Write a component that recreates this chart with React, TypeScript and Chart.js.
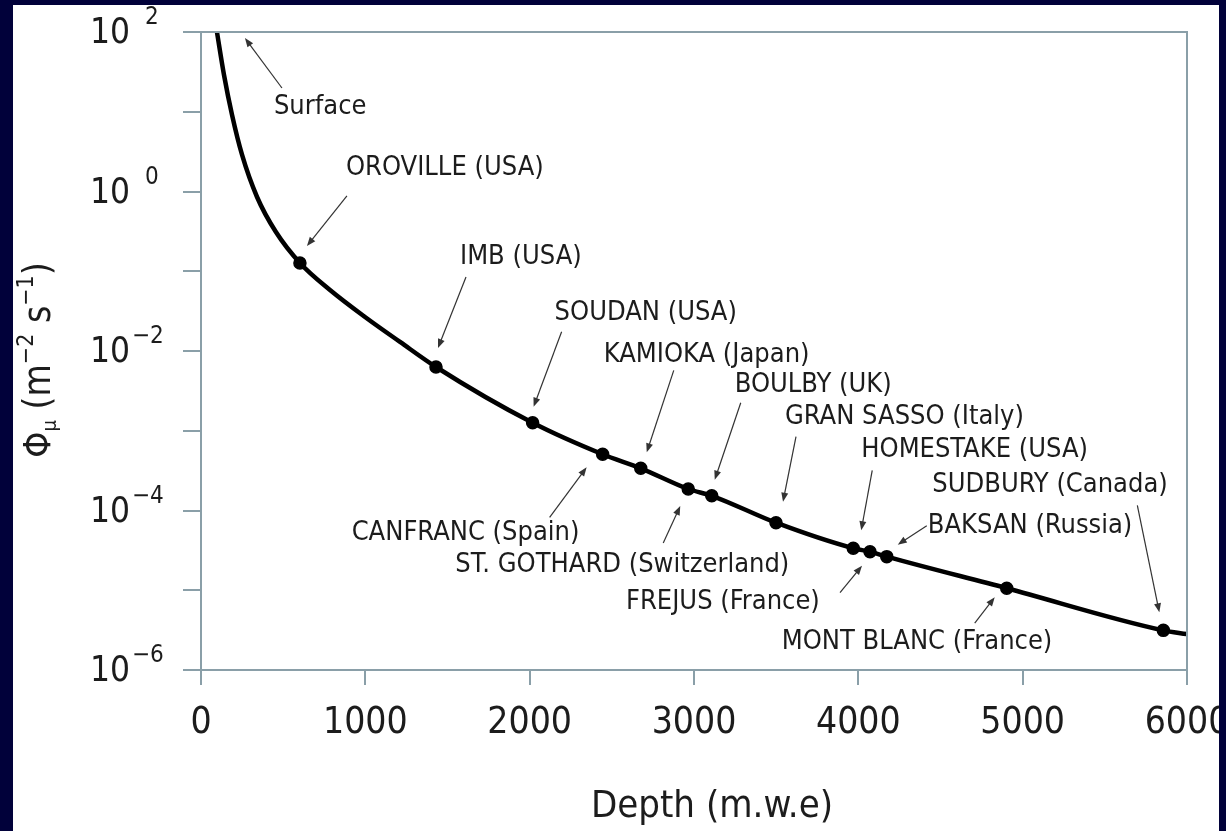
import React, { useEffect, useRef } from 'react';
import { Chart, registerables } from 'chart.js';

Chart.register(...registerables);

// ---- data ----
const curveDepth = [97, 140, 189, 250, 341, 456, 602, 785, 998, 1211, 1430, 2018, 2444, 2676, 2965, 3108, 3499, 3969, 4071, 4173, 4903, 5856, 5998];
const curveFlux = [100, 28.9, 9.1, 2.87, 0.853, 0.31, 0.127, 0.0582, 0.0267, 0.013, 6.3e-3, 1.26e-3, 5.07e-4, 3.38e-4, 1.86e-4, 1.53e-4, 7.03e-5, 3.36e-5, 3.04e-5, 2.64e-5, 1.06e-5, 3.14e-6, 2.82e-6];

const siteNames = [
  'OROVILLE (USA)', 'IMB (USA)', 'SOUDAN (USA)', 'CANFRANC (Spain)', 'KAMIOKA (Japan)',
  'ST. GOTHARD (Switzerland)', 'BOULBY (UK)', 'GRAN SASSO (Italy)', 'HOMESTAKE (USA)',
  'FREJUS (France)', 'BAKSAN (Russia)', 'MONT BLANC (France)', 'SUDBURY (Canada)',
];
const siteDepth = [602, 1430, 2018, 2444, 2676, 2965, 3108, 3499, 3969, 4071, 4173, 4903, 5856];
const siteFlux = [0.127, 6.3e-3, 1.26e-3, 5.07e-4, 3.38e-4, 1.86e-4, 1.53e-4, 7.03e-5, 3.36e-5, 3.04e-5, 2.64e-5, 1.06e-5, 3.14e-6];

const surfaceLabel = 'Surface';
const xTickValues = [0, 1000, 2000, 3000, 4000, 5000, 6000];
const yDecadeExponents = [-6, -5, -4, -3, -2, -1, 0, 1, 2];
const yLabelExponents = [-6, -4, -2, 0, 2];
const xTitle = 'Depth (m.w.e)';

// ---- annotation layout (pixel offsets from the marked point) ----
// [labelDx, labelDy, tailDx, tailDy, headDx, headDy]
const siteLayout = [
  [46, -95, 47, -67, 7, -17],
  [24, -110, 30, -90, 2, -19],
  [22, -110, 29, -91, 1, -16],
  [-251, 79, -53, 63, -16, 13],
  [-37, -113, 33, -98, 6, -16],
  [-233, 76, -25, 54, -8, 17],
  [23, -111, 29, -93, 3, -16],
  [9, -106, 20, -86, 7, -21],
  [8, -98, 19, -78, 8, -18],
  [-244, 50, -30, 41, -8, 14],
  [41, -31, 40, -31, 11, -12],
  [-225, 54, -32, 35, -12, 9],
  [-231, -145, -26, -125, -4, -18],
];
const surfaceLayout = [57, 75, 65, 56, 28, 6];

const FONT = "'DejaVu Sans Condensed', 'DejaVu Sans', sans-serif";
const AXIS_COLOR = '#8a9fa8';
const TEXT_COLOR = '#1c1c1c';
const FRAME_COLOR = '#01013a';

function drawArrow(ctx: CanvasRenderingContext2D, x1: number, y1: number, x2: number, y2: number) {
  const ang = Math.atan2(y2 - y1, x2 - x1);
  const hl = 9;
  const hw = 3.5;
  ctx.save();
  ctx.strokeStyle = '#333333';
  ctx.fillStyle = '#333333';
  ctx.lineWidth = 1.2;
  ctx.beginPath();
  ctx.moveTo(x1, y1);
  ctx.lineTo(x2 - Math.cos(ang) * hl * 0.8, y2 - Math.sin(ang) * hl * 0.8);
  ctx.stroke();
  ctx.beginPath();
  ctx.moveTo(x2, y2);
  ctx.lineTo(x2 - Math.cos(ang) * hl - Math.sin(ang) * hw, y2 - Math.sin(ang) * hl + Math.cos(ang) * hw);
  ctx.lineTo(x2 - Math.cos(ang) * hl + Math.sin(ang) * hw, y2 - Math.sin(ang) * hl - Math.cos(ang) * hw);
  ctx.closePath();
  ctx.fill();
  ctx.restore();
}

const decorPlugin = {
  id: 'decor',
  beforeDraw(chart: any) {
    const ctx = chart.ctx;
    ctx.save();
    ctx.fillStyle = '#ffffff';
    ctx.fillRect(0, 0, chart.width, chart.height);
    ctx.restore();
  },
  afterDraw(chart: any) {
    const ctx: CanvasRenderingContext2D = chart.ctx;
    const xs = chart.scales.x;
    const ys = chart.scales.y;
    const area = chart.chartArea;

    // top and right frame of the plot box
    ctx.save();
    ctx.strokeStyle = AXIS_COLOR;
    ctx.lineWidth = 2;
    ctx.beginPath();
    ctx.moveTo(area.left, area.top);
    ctx.lineTo(area.right, area.top);
    ctx.lineTo(area.right, area.bottom);
    ctx.stroke();
    ctx.restore();

    // y tick labels 10^n
    ctx.save();
    ctx.fillStyle = TEXT_COLOR;
    ctx.textBaseline = 'middle';
    for (const e of yLabelExponents) {
      const y = ys.getPixelForValue(Math.pow(10, e));
      ctx.font = `35px ${FONT}`;
      ctx.textAlign = 'right';
      ctx.fillText('10', 130, y + 2);
      ctx.font = `24px ${FONT}`;
      ctx.textAlign = 'left';
      const s = e < 0 ? '\u2212' + String(-e) : String(e);
      ctx.fillText(s, e < 0 ? 132 : 145, y - 14);
    }
    ctx.restore();

    // y axis title
    ctx.save();
    ctx.translate(50, 360);
    ctx.rotate(-Math.PI / 2);
    ctx.fillStyle = TEXT_COLOR;
    ctx.textBaseline = 'alphabetic';
    ctx.textAlign = 'left';
    const parts: [string, number, number][] = [
      ['\u03A6', 37, 0],
      ['\u03BC', 20, 6],
      [' (m', 37, 0],
      ['\u22122', 23, -17],
      [' s', 37, 0],
      ['\u22121', 23, -17],
      [')', 37, 0],
    ];
    let total = 0;
    for (const [t, sz] of parts) {
      ctx.font = `${sz}px ${FONT}`;
      total += ctx.measureText(t).width;
    }
    let cx = -total / 2;
    for (const [t, sz, dy] of parts) {
      ctx.font = `${sz}px ${FONT}`;
      ctx.fillText(t, cx, dy);
      cx += ctx.measureText(t).width;
    }
    ctx.restore();

    // x axis title
    ctx.save();
    ctx.fillStyle = TEXT_COLOR;
    ctx.font = `38px ${FONT}`;
    ctx.textAlign = 'center';
    ctx.textBaseline = 'middle';
    ctx.fillText(xTitle, (area.left + area.right) / 2 + 18, area.bottom + 137);
    ctx.restore();

    // annotations
    ctx.save();
    ctx.font = `27px ${FONT}`;
    ctx.fillStyle = TEXT_COLOR;
    ctx.textAlign = 'left';
    ctx.textBaseline = 'middle';
    const annotate = (px: number, py: number, text: string, lay: number[]) => {
      ctx.fillStyle = TEXT_COLOR;
      ctx.fillText(text, px + lay[0], py + lay[1]);
      drawArrow(ctx, px + lay[2], py + lay[3], px + lay[4], py + lay[5]);
    };
    annotate(xs.getPixelForValue(curveDepth[0]), ys.getPixelForValue(curveFlux[0]), surfaceLabel, surfaceLayout);
    siteNames.forEach((name, i) => {
      annotate(xs.getPixelForValue(siteDepth[i]), ys.getPixelForValue(siteFlux[i]), name, siteLayout[i]);
    });
    ctx.restore();

    // outer navy frame
    ctx.save();
    ctx.fillStyle = FRAME_COLOR;
    ctx.fillRect(0, 0, 13, chart.height);
    ctx.fillRect(0, 0, chart.width, 5);
    ctx.fillRect(1219, 0, chart.width - 1219, chart.height);
    ctx.restore();
  },
};

export default function App() {
  const ref = useRef<HTMLCanvasElement | null>(null);

  useEffect(() => {
    if (!ref.current) return;
    const chart = new Chart(ref.current, {
      type: 'scatter',
      data: {
        datasets: [
          {
            label: 'curve',
            data: curveDepth.map((x, i) => ({ x, y: curveFlux[i] })),
            showLine: true,
            borderColor: '#000000',
            borderWidth: 4.5,
            pointRadius: 0,
            cubicInterpolationMode: 'monotone',
            fill: false,
          } as any,
          {
            label: 'sites',
            data: siteDepth.map((x, i) => ({ x, y: siteFlux[i] })),
            showLine: false,
            pointRadius: 6,
            pointBorderWidth: 1.5,
            backgroundColor: '#000000',
            borderColor: '#000000',
          } as any,
        ],
      },
      options: {
        responsive: false,
        animation: false,
        events: [],
        layout: { padding: { left: 0, top: 32, right: 39, bottom: 0 } },
        plugins: { legend: { display: false }, tooltip: { enabled: false } },
        scales: {
          x: {
            type: 'linear',
            min: 0,
            max: 6000,
            afterBuildTicks: (s: any) => {
              s.ticks = xTickValues.map((v) => ({ value: v }));
            },
            ticks: {
              font: { family: FONT, size: 37 },
              color: TEXT_COLOR,
              padding: 16,
              maxRotation: 0,
              autoSkip: false,
              callback: (v: any) => String(v),
            },
            grid: { drawOnChartArea: false, drawTicks: true, tickLength: 15, color: AXIS_COLOR, lineWidth: 2 },
            border: { color: AXIS_COLOR, width: 2 },
            afterFit: (s: any) => {
              s.height = 161;
              s.paddingLeft = 0;
              s.paddingRight = 0;
            },
          },
          y: {
            type: 'logarithmic',
            min: 1e-6,
            max: 1e2,
            afterBuildTicks: (s: any) => {
              s.ticks = yDecadeExponents.map((e) => ({ value: Math.pow(10, e), major: true }));
            },
            ticks: { display: false },
            grid: { drawOnChartArea: false, drawTicks: true, tickLength: 18, color: AXIS_COLOR, lineWidth: 2 },
            border: { color: AXIS_COLOR, width: 2 },
            afterFit: (s: any) => {
              s.width = 201;
              s.paddingTop = 0;
              s.paddingBottom = 0;
            },
          },
        },
      } as any,
      plugins: [decorPlugin],
    });
    return () => chart.destroy();
  }, []);

  return (
    <div style={{ position: 'fixed', left: 0, top: 0, width: 1226, height: 831, background: '#ffffff' }}>
      <canvas ref={ref} width={1226} height={831} style={{ display: 'block', width: 1226, height: 831 }} />
    </div>
  );
}
